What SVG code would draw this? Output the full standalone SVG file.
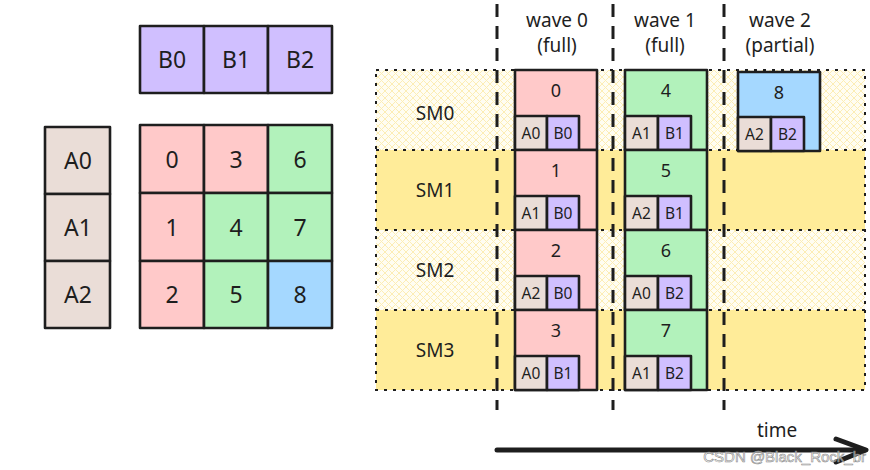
<svg xmlns="http://www.w3.org/2000/svg" width="870" height="470" viewBox="0 0 870 470">
<defs>
<pattern id="hatch" width="7" height="7" patternUnits="userSpaceOnUse">
<rect width="7" height="7" fill="#fffdf2"/>
<path d="M0,0 L7,7 M7,0 L0,7" stroke="#fcedb5" stroke-width="1"/>
</pattern>
<style>
.b{stroke:#1e1e1e;stroke-width:2.6;stroke-linejoin:round}
.pink{fill:#ffc9c9}.green{fill:#b2f2bb}.blue{fill:#a5d8ff}.purple{fill:#d0bfff}.beige{fill:#eaddd7}
.t{font-family:"Noto Sans","Open Sans",sans-serif;fill:#1e1e1e;text-anchor:middle;dominant-baseline:central}
.big{font-size:23px}.lab{font-size:19px}.num{font-size:18px}.sm{font-size:15.5px}
.dash{stroke:#1e1e1e;stroke-width:3;stroke-dasharray:13 9;fill:none}
.dot{stroke:#1e1e1e;stroke-width:2;stroke-dasharray:3 6;fill:none}
</style>
</defs>
<rect width="870" height="470" fill="#ffffff"/>

<!-- SM rows -->
<g id="sm-rows">
<rect x="376" y="70" width="489" height="80" fill="url(#hatch)"/>
<rect x="376" y="150" width="489" height="80" fill="#ffec99"/>
<rect x="376" y="230" width="489" height="80" fill="url(#hatch)"/>
<rect x="376" y="310" width="489" height="80" fill="#ffec99"/>
<path class="dot" d="M376,70 H865 V390 H376 Z M376,150 H865 M376,230 H865 M376,310 H865"/>
<text class="t lab" x="435" y="113">SM0</text>
<text class="t lab" x="435" y="190">SM1</text>
<text class="t lab" x="435" y="270">SM2</text>
<text class="t lab" x="435" y="350">SM3</text>
</g>

<!-- B row -->
<g id="B0"><rect class="b purple" x="140" y="26" width="64" height="67"/><text class="t big" x="172" y="59">B0</text></g>
<g id="B1"><rect class="b purple" x="204" y="26" width="64" height="67"/><text class="t big" x="236" y="59">B1</text></g>
<g id="B2"><rect class="b purple" x="268" y="26" width="64" height="67"/><text class="t big" x="300" y="59">B2</text></g>

<!-- A column -->
<g id="A0"><rect class="b beige" x="45" y="127" width="65" height="67"/><text class="t big" x="78" y="160">A0</text></g>
<g id="A1"><rect class="b beige" x="45" y="194" width="65" height="67"/><text class="t big" x="78" y="227">A1</text></g>
<g id="A2"><rect class="b beige" x="45" y="261" width="65" height="67"/><text class="t big" x="78" y="294">A2</text></g>

<!-- C grid -->
<g id="C0"><rect class="b pink" x="140" y="125" width="64" height="68"/><text class="t big" x="172" y="159">0</text></g>
<g id="C3"><rect class="b pink" x="204" y="125" width="64" height="68"/><text class="t big" x="236" y="159">3</text></g>
<g id="C6"><rect class="b green" x="268" y="125" width="64" height="68"/><text class="t big" x="300" y="159">6</text></g>
<g id="C1"><rect class="b pink" x="140" y="193" width="64" height="68"/><text class="t big" x="172" y="227">1</text></g>
<g id="C4"><rect class="b green" x="204" y="193" width="64" height="68"/><text class="t big" x="236" y="227">4</text></g>
<g id="C7"><rect class="b green" x="268" y="193" width="64" height="68"/><text class="t big" x="300" y="227">7</text></g>
<g id="C2"><rect class="b pink" x="140" y="261" width="64" height="67"/><text class="t big" x="172" y="294">2</text></g>
<g id="C5"><rect class="b green" x="204" y="261" width="64" height="67"/><text class="t big" x="236" y="294">5</text></g>
<g id="C8"><rect class="b blue" x="268" y="261" width="64" height="67"/><text class="t big" x="300" y="294">8</text></g>

<!-- wave 0 tiles -->
<g id="T0"><rect class="b pink" x="515" y="70" width="82" height="80"/><text class="t num" x="556" y="90">0</text>
<rect class="b beige" x="515" y="116" width="32" height="34"/><text class="t sm" x="531" y="133">A0</text>
<rect class="b purple" x="547" y="116" width="32" height="34"/><text class="t sm" x="563" y="133">B0</text></g>
<g id="T1"><rect class="b pink" x="515" y="150" width="82" height="80"/><text class="t num" x="556" y="170">1</text>
<rect class="b beige" x="515" y="196" width="32" height="34"/><text class="t sm" x="531" y="213">A1</text>
<rect class="b purple" x="547" y="196" width="32" height="34"/><text class="t sm" x="563" y="213">B0</text></g>
<g id="T2"><rect class="b pink" x="515" y="230" width="82" height="80"/><text class="t num" x="556" y="250">2</text>
<rect class="b beige" x="515" y="276" width="32" height="34"/><text class="t sm" x="531" y="293">A2</text>
<rect class="b purple" x="547" y="276" width="32" height="34"/><text class="t sm" x="563" y="293">B0</text></g>
<g id="T3"><rect class="b pink" x="515" y="310" width="82" height="80"/><text class="t num" x="556" y="330">3</text>
<rect class="b beige" x="515" y="356" width="32" height="34"/><text class="t sm" x="531" y="373">A0</text>
<rect class="b purple" x="547" y="356" width="32" height="34"/><text class="t sm" x="563" y="373">B1</text></g>

<!-- wave 1 tiles -->
<g id="T4"><rect class="b green" x="625" y="70" width="82" height="80"/><text class="t num" x="666" y="90">4</text>
<rect class="b beige" x="625" y="116" width="33" height="34"/><text class="t sm" x="641.5" y="133">A1</text>
<rect class="b purple" x="658" y="116" width="33" height="34"/><text class="t sm" x="674.5" y="133">B1</text></g>
<g id="T5"><rect class="b green" x="625" y="150" width="82" height="80"/><text class="t num" x="666" y="170">5</text>
<rect class="b beige" x="625" y="196" width="33" height="34"/><text class="t sm" x="641.5" y="213">A2</text>
<rect class="b purple" x="658" y="196" width="33" height="34"/><text class="t sm" x="674.5" y="213">B1</text></g>
<g id="T6"><rect class="b green" x="625" y="230" width="82" height="80"/><text class="t num" x="666" y="250">6</text>
<rect class="b beige" x="625" y="276" width="33" height="34"/><text class="t sm" x="641.5" y="293">A0</text>
<rect class="b purple" x="658" y="276" width="33" height="34"/><text class="t sm" x="674.5" y="293">B2</text></g>
<g id="T7"><rect class="b green" x="625" y="310" width="82" height="80"/><text class="t num" x="666" y="330">7</text>
<rect class="b beige" x="625" y="356" width="33" height="34"/><text class="t sm" x="641.5" y="373">A1</text>
<rect class="b purple" x="658" y="356" width="33" height="34"/><text class="t sm" x="674.5" y="373">B2</text></g>

<!-- wave 2 tile -->
<g id="T8"><rect class="b blue" x="738" y="72" width="82" height="79"/><text class="t num" x="779" y="92">8</text>
<rect class="b beige" x="738" y="117" width="33" height="34"/><text class="t sm" x="754.5" y="134">A2</text>
<rect class="b purple" x="771" y="117" width="33" height="34"/><text class="t sm" x="787.5" y="134">B2</text></g>

<!-- wave separators and time arrow -->
<g id="connectors">
<line class="dash" x1="497" y1="4" x2="497" y2="410"/>
<line class="dash" x1="613" y1="4" x2="613" y2="410"/>
<line class="dash" x1="724" y1="4" x2="724" y2="410"/>
<line x1="497" y1="450" x2="864" y2="450" stroke="#1e1e1e" stroke-width="5" stroke-linecap="round"/>
<path d="M836,439 L866,450 L836,462" fill="none" stroke="#1e1e1e" stroke-width="5" stroke-linecap="round" stroke-linejoin="round"/>
</g>
<g id="labels">
<text class="t lab" x="557" y="20">wave 0</text>
<text class="t lab" x="557" y="45">(full)</text>
<text class="t lab" x="665" y="20">wave 1</text>
<text class="t lab" x="665" y="45">(full)</text>
<text class="t lab" x="780" y="20">wave 2</text>
<text class="t lab" x="780" y="45">(partial)</text>
<text class="t lab" x="777" y="430">time</text>
<text x="866" y="462" font-family="'Liberation Sans',Arial,sans-serif" font-size="15" fill="#ffffff" fill-opacity="0.55" stroke="#8a8a8a" stroke-width="0.6" text-anchor="end">CSDN @Black_Rock_br</text>
</g>
</svg>
